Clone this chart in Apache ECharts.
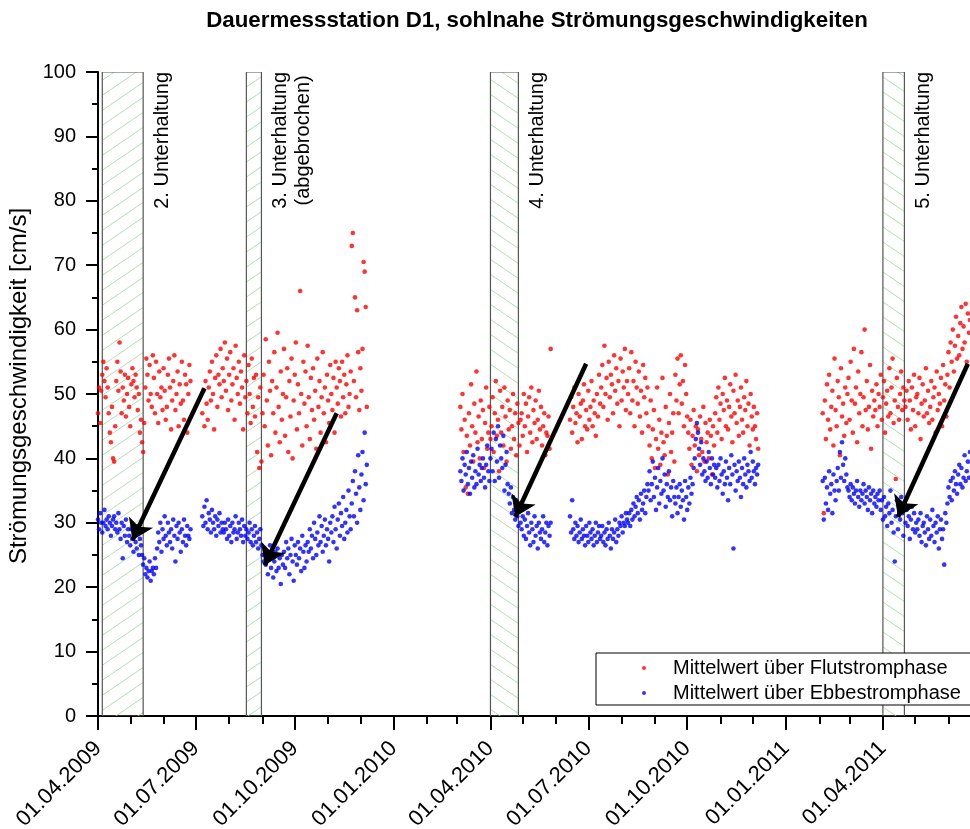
<!DOCTYPE html>
<html>
<head>
<meta charset="utf-8">
<title>Dauermessstation D1</title>
<script src="https://cdn.jsdelivr.net/npm/echarts@6/dist/echarts.min.js"></script>
<style>
  html, body { margin: 0; padding: 0; background: #fff; }
  #chart { width: 970px; height: 829px; }
</style>
</head>
<body>
<div id="chart"></div>
<script>
// ---- Daily mean velocities [cm/s]; each block starts at its date and runs day by day ----
const blockStarts = ['2009-04-01', '2009-07-07', '2010-03-04', '2010-06-14', '2011-02-04'];

// Mittelwert über Flutstromphase
const flut2009a = [47,51,45.5, 50.5,53,55,52,49.5,54,51, 47,44,42.5,48,40,39.5,45, 52,55,50.5,58,53.5,47,
  51,49,53,46.5,50,52.5,48,45,51.5, 54,52,49.5,53,51,47.5,50, 44,46,42.5,41,45.5,
  51,55.5,53,49,54.5,50,48,56, 52.5,47,55,50,45.5,53.5,49.5,51,47.5,54,50.5,46,
  48,53,55.5,51,44.5,49,52,56,47.5,50,53.5,45,51.5,48.5,55, 49,46,53,51.5,44,50,54.5,52];
const flut2009b = [47,50.5,45,52,48.5,46,51,53.5,49,55,50,44.5,52.5,56,48,53,51.5,57,49.5,54,
  52,58,50.5,55.5,47.5,53,56.5,49,51.5,54,46,57.5,52.5,50,55,48.5,53.5,51,44.5,56,49.5,
  52,47,54.5,50,45.5,55.5,48,52.5,46.5,53,41,49.5,38.5,51,39.5,47,
  53,45,58.5,49,42,55,50.5,40.5,52,47,56.5,44,51,59.5,48,42.5,53.5,46,50,57,43.5,49.5,54,41,
  52,46.5,55.5,40,49,53,58,44.5,51.5,47,66,50,42,55,48.5,53.5,45,57.5,49.5,43,52.5,47.5,
  54,46,50.5,41.5,55.5,48,52,44,49.5,56.5,47,51,42.5,53,49,45.5,54.5,50,47.5,52.5,44,55,
  51,48.5,54,52,46.5,55,49.5,53,47,51.5,56,48,50,53.5,
  73,75,52,65,49.5,63,56.5,47.5,54,50.5,57,70.5,69,63.5,48];
const flut2010a = [48,44.5,50,41,46,35.5,43.5,34.5,47,42,51.5,45,39.5,48.5,44,53.5,42.5,46.5,40,49,43,47.5,38.5,45.5,51,41.5,44,48,43,
  45,49.5,41,47,52,43.5,46,38,50.5,44,48,42,51,46.5,39.5,49,44.5,47.5,41.5,45,50,43,47,40.5,48.5,45.5,42,46,
  47,43.5,50,45,48.5,41,46.5,49.5,44,51,42.5,47.5,45.5,49,43,46,50.5,44.5,48,42,45,47,40.5,44,43.5,46.5,41.5,57];
const flut2010b = [46,49.5,44,48,51,45.5,47,42.5,50,46.5,48.5,43,49,51.5,45,47.5,44.5,50.5,46,48,52,45,49,47,43.5,50,46.5,53,48.5,
  51,54.5,48,57.5,50,52.5,46,55,49.5,53,51.5,47,56,50.5,54,48.5,52,45,55.5,49,53.5,51,57,47.5,52,
  50,54,47,56.5,49,52,45,55,51,48.5,53.5,46.5,50.5,44,54.5,49.5,52.5,47,51,
  45,42,49,40,44.5,47.5,38.5,43,51,41.5,46,39,44,52.5,42.5,40.5,48,43.5,37.5,45.5,50,41,44,47,39.5,
  53,49,55.5,47,51.5,56,48.5,52,45,54.5,50,46.5,
  44,41.5,46,39,43.5,47.5,42,45,38,44.5,40.5,46.5,43,41,48,39.5,45.5,42.5,44,40,46,43.5,37.5,45,42,
  47,49.5,44,51,46,48.5,43,50,47.5,52.5,45,49,44.5,48,51.5,46.5,42.5,50.5,47,53,45.5,49,43.5,48,51,46,44,49.5,47.5,52,45,48.5,42,50,46.5,44.5,48,45,43,47,41.5];
const flut2011 = [47,31.5,49,43,51.5,46,53,44.5,48,50.5,42,55.5,47.5,45,52,49.5,40.5,54,46.5,48.5,43.5,51,45.5,50,
  52.5,46,55,49,44,57,48.5,51,42.5,53.5,47,50,56.5,45,49.5,60,47.5,52,44.5,48,54.5,41.5,50.5,46.5,
  49,47.5,51.5,45,50,48,53,46,49.5,52,44,48.5,50.5,46.5,54,47,51,55.5,45.5,49,36.8,52.5,48,46,50,53.5,47.5,51,49,
  48,50.5,46,52,49,44.5,51,47.5,53,45,49.5,50,47,52.5,43,48.5,51.5,46.5,49,54,47,50.5,45.5,48,52,46,49.5,51,44,53.5,47.5,50,48.5,52.5,45,54.5,49,51.5,46.5,
  53,56.5,51,58,55,60,53.5,57.5,62,55.5,59,56,61,63.5,57,60.5,58,64,55,62.5,59.5,61.5,57.5];

// Mittelwert über Ebbestromphase
const ebbe2009a = [30.5,29,31.5,30,28.5,30,32,29.5,30.5,29,31,30,28,29.5,30.5,31,29,
  30,28.5,31.5,29,27.5,30,24.5,29.5,28,30.5,27,29,
  28,26.5,29,27.5,25.5,28.5,27,26,29.5,25,27.5,26.5,
  25,23.5,24.5,22,23,21.5,22.5,24,21,22.5,23,22,24.5,23,
  26,28.5,27,30,25.5,29,27.5,31,28,26.5,30,28.5,27,
  29,26,30.5,28,24,29.5,27.5,30,28.5,25.5,29,27,30.5,28,26.5,29.5,28,27.5,29];
const ebbe2009b = [31,29.5,32.5,30,33.5,29,31.5,30.5,28.5,32,30,29,31,28,30.5,29.5,31.5,28.5,30,29,
  28.5,30,29,27.5,30.5,28,29.5,27,30,28.5,29,31,27.5,28.5,30,29,28,30.5,27,29.5,28,
  29,27.5,28.5,30,27,29,26.5,28,29.5,27,28.5,26,27.5,29,26.5,25,
  24,26,23.5,25.5,22,24.5,26.5,23,25,21.5,24,25.5,22.5,26,23,24.5,20.5,25,23.5,
  25.5,23,27,24.5,26,22,25,27.5,24,21,26.5,25,23.5,27,24.5,26,22.5,28,25.5,23,26.5,24,
  27,25.5,29,26,28,24.5,30,27.5,25,28.5,26.5,31,27,29.5,25.5,28,30.5,26.5,29,27.5,24,30,
  28.5,31,27,32.5,29,26,30.5,33,28,31.5,29.5,34,27.5,30,32,28.5,35,31,29,
  33,36.5,31,38,34.5,30,40.5,35.5,32,37.5,41,33.5,44,36,39];
const ebbe2010a = [38,36.5,40,35,39,37.5,41,36,38.5,34.5,39.5,37,40.5,35.5,38,36,41.5,37.5,39,36.5,38.5,40,37,35.5,39,42,38,36.5,40,
  41.5,38,44,36.5,43,39.5,45,37,42,40,38.5,43.5,35,39,41,36,
  34.5,33,35.5,31.5,34,32,30.5,33.5,31,29.5,32,30,
  29,31,28,30.5,27.5,29.5,31.5,28.5,26.5,30,29,27,31,28,29.5,26,30,28.5,27.5,29,31,27,28.5,30,26.5,29.5,28,30];
const ebbe2010b = [31,28.5,33.5,29,27.5,30,28,29.5,27,28.5,30.5,27.5,29,28,26.5,29.5,28,27,30,28.5,27.5,29,26.5,28,30,27,28.5,29.5,27.5,
  28,29.5,27,28.5,26.5,29,27.5,30,28,26,29,27.5,28.5,30.5,27,29,28,30,29.5,31,28.5,30,29.5,31.5,30.5,
  30,31.5,29.5,32,30.5,33,31,32.5,34,31.5,33.5,30.5,34.5,32,33,35,31.5,34,36,
  35,38,33.5,36,39.5,34,37,32,35.5,38.5,33,36.5,34.5,40,35,37.5,32.5,36,34,38,33.5,35.5,31,36.5,34,
  33,35.5,31.5,34,36,32.5,35,33.5,30.5,36.5,34,32,35.5,33,37,34.5,36,38.5,40,
  43,45.5,44,41.5,39,42.5,37.5,40,38,36.5,39.5,37,41,38.5,36,40,37.5,39,
  37,38.5,35.5,39,36.5,40,37.5,34.5,38,36,39.5,37,33.5,38.5,36,40.5,37.5,26,39,35,38,36.5,39.5,37,34,38.5,36,40,37.5,35.5,39,38,36.5,41,37,39.5,38,36,38.5,37.5,39];
const ebbe2011 = [36.5,30.5,37,33,35.5,32,38,34.5,36,31.5,37.5,35,33.5,36.5,38.5,35,41,37,42.5,39,36.5,40,37.5,35.5,
  35,34,36,33.5,35.5,34.5,33,35,36.5,34,32.5,35,33.5,34.5,36,33,35,34,32,35.5,33.5,34.5,31.5,35,33,34,32.5,34.5,33.5,35,
  32,33.5,30.5,34,31,32.5,29.5,33,31.5,35,30,32,28.5,24,31,33.5,29,32.5,30.5,34,31.5,28,33,30,32,29.5,31,27.5,30.5,32.5,29,31.5,28.5,30,
  29,30.5,28,31.5,27,29.5,30,28.5,26.5,31,29,27.5,30.5,28,32,29.5,27,30,28.5,31,26,29,30.5,27.5,29,23.5,31.5,30,
  33,35.5,34,36.5,33.5,37,35,38,36,34.5,37.5,39,36,38.5,35.5,37,40.5,36.5,38,39.5,37,41,38.5];

const flutBlocks = [flut2009a, flut2009b, flut2010a, flut2010b, flut2011];
const ebbeBlocks = [ebbe2009a, ebbe2009b, ebbe2010a, ebbe2010b, ebbe2011];

// ---- Maintenance periods (Unterhaltung) ----
const periodStart = ['2009-04-05', '2009-08-17', '2010-04-01', '2011-04-01'];
const periodEnd   = ['2009-05-13', '2009-08-31', '2010-04-27', '2011-04-21'];
const periodText  = [['2. Unterhaltung'], ['3. Unterhaltung', '(abgebrochen)'], ['4. Unterhaltung'], ['5. Unterhaltung']];
const periodHatch = ['/', '/', '\\', '\\'];

// ---- Arrows: from [date, value] to [date, value] ----
const arrowFromDate = ['2009-07-09', '2009-11-09', '2010-06-29', '2011-06-19'];
const arrowFromVal  = [50.9, 47.0, 54.7, 54.7];
const arrowToDate   = ['2009-05-03', '2009-09-03', '2010-04-24', '2011-04-15'];
const arrowToVal    = [27.3, 23.4, 30.9, 30.9];

// ---- Axis ----
const tickDates = ['2009-04-01', '2009-07-01', '2009-10-01', '2010-01-01', '2010-04-01',
                   '2010-07-01', '2010-10-01', '2011-01-01', '2011-04-01'];
const axisStart = '2009-04-01';
const axisEnd = '2011-06-21';

const FONT = '"Liberation Sans", Arial, Helvetica, sans-serif';

function ts(s, plusDays) {
  const p = s.split('-').map(Number);
  return new Date(p[0], p[1] - 1, p[2] + (plusDays || 0)).getTime();
}
function pad(n) { return n < 10 ? '0' + n : '' + n; }
function fmt(t) {
  const d = new Date(t);
  return pad(d.getDate()) + '.' + pad(d.getMonth() + 1) + '.' + d.getFullYear();
}
function blockPoints(blocks) {
  const out = [];
  blocks.forEach(function (vals, b) {
    vals.forEach(function (v, i) { out.push([ts(blockStarts[b], i), v]); });
  });
  return out;
}

const majorTicks = tickDates.map(function (s) { return ts(s); });
const monthTicks = [];
for (let m = 0; m < 27; m++) monthTicks.push(new Date(2009, 3 + m, 1).getTime());

// hatch tiles for the maintenance rectangles
function hatchTile(dir) {
  const w = 22, h = 15;
  const c = document.createElement('canvas');
  c.width = w; c.height = h;
  const g = c.getContext('2d');
  g.strokeStyle = '#b4deb4';
  g.lineWidth = 1;
  g.beginPath();
  if (dir === '/') { g.moveTo(0, h); g.lineTo(w, 0); }
  else { g.moveTo(0, 0); g.lineTo(w, h); }
  g.stroke();
  return { image: c, repeat: 'repeat' };
}
const hatchFill = { '/': hatchTile('/'), '\\': hatchTile('\\') };

const measureCtx = document.createElement('canvas').getContext('2d');
measureCtx.font = '20px ' + FONT;

const periodData = periodStart.map(function (s, i) { return [ts(s), ts(periodEnd[i]), i]; });

const chart = echarts.init(document.getElementById('chart'), null, { renderer: 'canvas' });

chart.setOption({
  animation: false,
  backgroundColor: '#fff',
  title: {
    text: 'Dauermessstation D1, sohlnahe Strömungsgeschwindigkeiten',
    left: 532, top: 5, textAlign: 'center',
    textStyle: { fontFamily: FONT, fontSize: 22.3, fontWeight: 'bold', color: '#000' }
  },
  grid: { left: 98, right: 0, top: 72, bottom: 113, containLabel: false, outerBoundsMode: 'none' },
  legend: {
    orient: 'vertical', left: 596, top: 653,
    backgroundColor: '#fff', borderColor: '#000', borderWidth: 1, borderRadius: 0,
    padding: [5, 40, 2, 46], itemGap: 5, itemWidth: 4, itemHeight: 4,
    icon: 'circle',
    textStyle: { fontFamily: FONT, fontSize: 20, color: '#000', lineHeight: 20, padding: [0, 0, 0, 22] },
    data: ['Mittelwert über Flutstromphase', 'Mittelwert über Ebbestromphase']
  },
  xAxis: [{
    type: 'value', min: ts(axisStart), max: ts(axisEnd),
    axisLine: { lineStyle: { color: '#000', width: 2 } },
    axisTick: { customValues: majorTicks, length: 14, lineStyle: { color: '#000', width: 2 } },
    axisLabel: {
      customValues: majorTicks, rotate: 45, margin: 29, color: '#000',
      fontFamily: FONT, fontSize: 22, formatter: function (v) { return fmt(v); }
    },
    splitLine: { show: false }
  }, {
    type: 'value', min: ts(axisStart), max: ts(axisEnd), position: 'bottom',
    axisLine: { show: false },
    axisTick: { customValues: monthTicks, length: 8, lineStyle: { color: '#000', width: 2 } },
    axisLabel: { show: false },
    splitLine: { show: false }
  }],
  yAxis: {
    type: 'value', min: 0, max: 100, interval: 10,
    name: 'Strömungsgeschwindigkeit [cm/s]', nameLocation: 'middle', nameGap: 58,
    nameTextStyle: { fontFamily: FONT, fontSize: 24, color: '#000', padding: [0, 0, 0, 16] },
    axisLine: { show: true, lineStyle: { color: '#000', width: 2 } },
    axisTick: { show: true, length: 12, lineStyle: { color: '#000', width: 2 } },
    minorTick: { show: true, splitNumber: 2, length: 6, lineStyle: { color: '#000', width: 2 } },
    axisLabel: { margin: 22, color: '#000', fontFamily: FONT, fontSize: 20 },
    splitLine: { show: false }
  },
  series: [{
    type: 'custom',
    name: 'Unterhaltung',
    silent: true,
    z: 1,
    data: periodData,
    clip: true,
    renderItem: function (params, api) {
      const i = api.value(2);
      const p0 = api.coord([api.value(0), 100]);
      const p1 = api.coord([api.value(1), 0]);
      const children = [{
        type: 'rect',
        shape: { x: p0[0], y: p0[1], width: p1[0] - p0[0], height: p1[1] - p0[1] },
        style: { fill: hatchFill[periodHatch[i]], stroke: '#555', lineWidth: 1.2 }
      }];
      const lines = periodText[i];
      const widths = lines.map(function (t) { return measureCtx.measureText(t).width; });
      const maxW = Math.max.apply(null, widths);
      lines.forEach(function (t, k) {
        children.push({
          type: 'text',
          x: p1[0] + 19 + k * 23,
          y: p0[1] + (maxW - widths[k]) / 2,
          rotation: Math.PI / 2,
          style: { text: t, fontFamily: FONT, fontSize: 20, fill: '#000', align: 'right', verticalAlign: 'middle' }
        });
      });
      return { type: 'group', children: children };
    }
  }, {
    type: 'scatter',
    name: 'Mittelwert über Flutstromphase',
    data: blockPoints(flutBlocks),
    symbol: 'circle', symbolSize: 4.6,
    itemStyle: { color: '#ff0000' },
    z: 3
  }, {
    type: 'scatter',
    name: 'Mittelwert über Ebbestromphase',
    data: blockPoints(ebbeBlocks),
    symbol: 'circle', symbolSize: 4.6,
    itemStyle: { color: '#0000ff' },
    z: 3
  }, {
    type: 'lines',
    name: 'Pfeile',
    coordinateSystem: 'cartesian2d',
    silent: true,
    z: 5,
    symbol: ['none', 'arrow'],
    symbolSize: 20,
    lineStyle: { color: '#000', width: 4.5, opacity: 1 },
    data: arrowFromDate.map(function (d, i) {
      return { coords: [[ts(d), arrowFromVal[i]], [ts(arrowToDate[i]), arrowToVal[i]]] };
    })
  }]
});
</script>
</body>
</html>
